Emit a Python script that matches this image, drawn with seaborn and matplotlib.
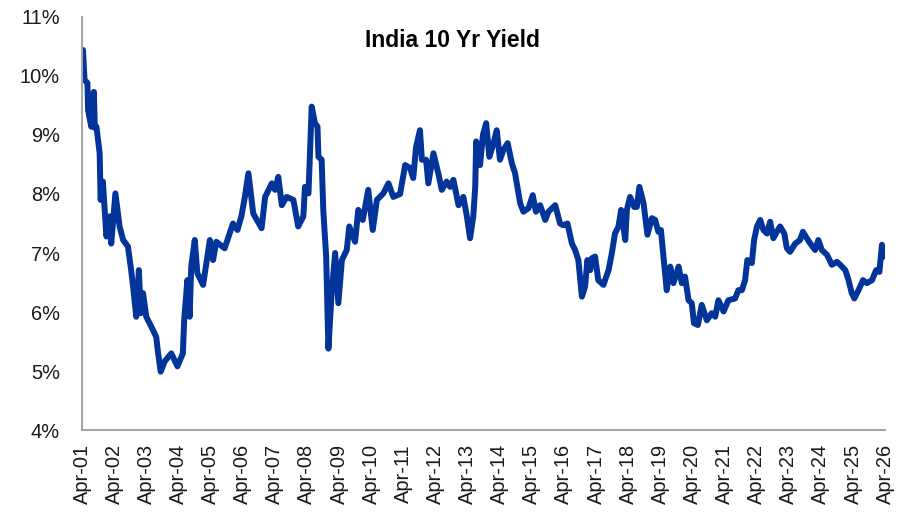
import numpy as np
import pandas as pd
import matplotlib
matplotlib.use("Agg")
import matplotlib.pyplot as plt
import seaborn as sns

# India 10 Yr yield (decimal year, % yield)
years = [
    2001.28, 2001.33, 2001.42, 2001.44, 2001.54, 2001.62, 2001.65, 2001.70, 2001.80, 2001.83,
    2001.90, 2002.01, 2002.11, 2002.16, 2002.29, 2002.42, 2002.53, 2002.68, 2002.78, 2002.84,
    2002.94, 2003.02, 2003.08, 2003.15, 2003.25, 2003.41, 2003.56, 2003.62, 2003.70, 2003.82,
    2004.03, 2004.22, 2004.39, 2004.43, 2004.53, 2004.60, 2004.65, 2004.76, 2004.84, 2005.02,
    2005.23, 2005.33, 2005.43, 2005.69, 2005.95, 2006.09, 2006.21, 2006.32, 2006.43, 2006.58,
    2006.84, 2006.95, 2007.16, 2007.26, 2007.36, 2007.47, 2007.62, 2007.83, 2007.98, 2008.14,
    2008.19, 2008.30, 2008.40, 2008.50, 2008.58, 2008.61, 2008.71, 2008.76, 2008.85, 2008.92,
    2009.02, 2009.13, 2009.23, 2009.34, 2009.49, 2009.57, 2009.75, 2009.85, 2009.99, 2010.16,
    2010.30, 2010.43, 2010.63, 2010.79, 2010.94, 2011.15, 2011.31, 2011.46, 2011.56, 2011.65,
    2011.77, 2011.83, 2011.96, 2012.03, 2012.19, 2012.34, 2012.45, 2012.60, 2012.71, 2012.81,
    2012.97, 2013.12, 2013.23, 2013.33, 2013.43, 2013.49, 2013.52, 2013.64, 2013.73, 2013.83,
    2013.93, 2014.06, 2014.16, 2014.26, 2014.37, 2014.50, 2014.63, 2014.73, 2014.89, 2014.99,
    2015.15, 2015.28, 2015.38, 2015.51, 2015.67, 2015.77, 2015.98, 2016.13, 2016.23, 2016.36,
    2016.50, 2016.60, 2016.70, 2016.81, 2016.91, 2016.98, 2017.07, 2017.12, 2017.22, 2017.32,
    2017.48, 2017.64, 2017.74, 2017.84, 2017.95, 2018.03, 2018.16, 2018.21, 2018.31, 2018.44,
    2018.52, 2018.60, 2018.73, 2018.85, 2018.99, 2019.09, 2019.19, 2019.27, 2019.35, 2019.45,
    2019.56, 2019.66, 2019.82, 2019.92, 2020.02, 2020.13, 2020.23, 2020.30, 2020.42, 2020.54,
    2020.70, 2020.85, 2020.96, 2021.06, 2021.22, 2021.37, 2021.58, 2021.68, 2021.79, 2021.89,
    2021.96, 2022.10, 2022.17, 2022.26, 2022.36, 2022.46, 2022.57, 2022.67, 2022.77, 2022.88,
    2022.98, 2023.11, 2023.19, 2023.29, 2023.45, 2023.60, 2023.69, 2023.81, 2023.92, 2024.07,
    2024.17, 2024.28, 2024.44, 2024.59, 2024.75, 2024.85, 2025.01, 2025.11, 2025.21, 2025.29,
    2025.42, 2025.56, 2025.68, 2025.84, 2025.97, 2026.07, 2026.15, 2026.20,
]
yld = [
    10.44, 9.93, 9.88, 9.42, 9.14, 9.73, 9.12, 9.14, 8.69, 7.90,
    8.21, 7.28, 7.62, 7.16, 8.01, 7.45, 7.22, 7.11, 6.71, 6.43,
    5.92, 6.71, 5.98, 6.32, 5.92, 5.75, 5.58, 5.30, 4.99, 5.16,
    5.30, 5.08, 5.30, 5.86, 6.54, 5.92, 6.77, 7.22, 6.66, 6.46,
    7.22, 6.88, 7.19, 7.08, 7.50, 7.39, 7.62, 7.95, 8.35, 7.67,
    7.42, 7.95, 8.18, 8.07, 8.29, 7.81, 7.95, 7.90, 7.45, 7.62,
    8.12, 8.01, 9.48, 9.20, 9.14, 8.63, 8.58, 7.73, 6.94, 5.38,
    6.32, 7.00, 6.15, 6.88, 7.05, 7.45, 7.19, 7.73, 7.56, 8.07,
    7.39, 7.90, 8.01, 8.18, 7.95, 8.00, 8.49, 8.44, 8.27, 8.80,
    9.08, 8.58, 8.58, 8.18, 8.69, 8.35, 8.07, 8.21, 8.12, 8.24,
    7.81, 7.95, 7.62, 7.25, 7.62, 8.12, 8.89, 8.49, 9.00, 9.20,
    8.63, 8.86, 9.08, 8.58, 8.75, 8.86, 8.52, 8.35, 7.84, 7.70,
    7.76, 7.98, 7.70, 7.81, 7.56, 7.70, 7.81, 7.50, 7.47, 7.50,
    7.16, 7.05, 6.88, 6.26, 6.43, 6.88, 6.71, 6.91, 6.94, 6.54,
    6.46, 6.71, 6.99, 7.33, 7.45, 7.73, 7.22, 7.73, 7.95, 7.78,
    7.78, 8.12, 7.84, 7.31, 7.59, 7.56, 7.36, 7.39, 6.94, 6.37,
    6.77, 6.49, 6.77, 6.49, 6.60, 6.20, 6.15, 5.81, 5.78, 6.12,
    5.86, 5.98, 5.92, 6.20, 6.01, 6.20, 6.23, 6.37, 6.37, 6.54,
    6.88, 6.83, 7.22, 7.45, 7.56, 7.39, 7.33, 7.53, 7.25, 7.36,
    7.45, 7.33, 7.08, 7.02, 7.16, 7.22, 7.36, 7.25, 7.16, 7.05,
    7.22, 7.05, 6.97, 6.80, 6.85, 6.80, 6.71, 6.54, 6.32, 6.23,
    6.37, 6.54, 6.49, 6.54, 6.71, 6.68, 7.14, 6.94,
]

tick_years = [2001.25 + k for k in range(26)]
tick_labels = ["Apr-%02d" % (k % 100) for k in range(1, 27)]
y_ticks = [4, 5, 6, 7, 8, 9, 10, 11]

sns.set_theme(style="white")
plt.rcParams["font.family"] = ["Liberation Sans", "DejaVu Sans"]

df = pd.DataFrame({"year": years, "yield": yld})

fig = plt.figure(figsize=(9.06, 5.12), dpi=100)
ax = fig.add_axes([0.0905, 0.160, 0.8865, 0.807])

sns.lineplot(data=df, x="year", y="yield", ax=ax, color="#03349a",
             linewidth=4.3, estimator=None, sort=False)

ax.set_xlim(2001.25, 2026.25)
ax.set_ylim(4, 11)
ax.set_xticks(tick_years)
ax.set_xticklabels(tick_labels, rotation=90, fontsize=14.4)
ax.set_yticks(y_ticks)
ax.set_yticklabels(["%d%%" % v for v in y_ticks], fontsize=14.4)
ax.tick_params(axis="both", length=0, colors="#1a1a1a")
ax.tick_params(axis="y", pad=16)
ax.tick_params(axis="x", pad=10)
ax.set_xlabel("")
ax.set_ylabel("")

for side in ["top", "right"]:
    ax.spines[side].set_visible(False)
for side in ["left", "bottom"]:
    ax.spines[side].set_color("#a6a6a6")
    ax.spines[side].set_linewidth(1.5)

ax.text(0.461, 0.944, "India 10 Yr Yield", transform=ax.transAxes,
        ha="center", va="center", fontsize=16.5, fontweight="bold", color="black")

fig.savefig("out.png", dpi=100)
